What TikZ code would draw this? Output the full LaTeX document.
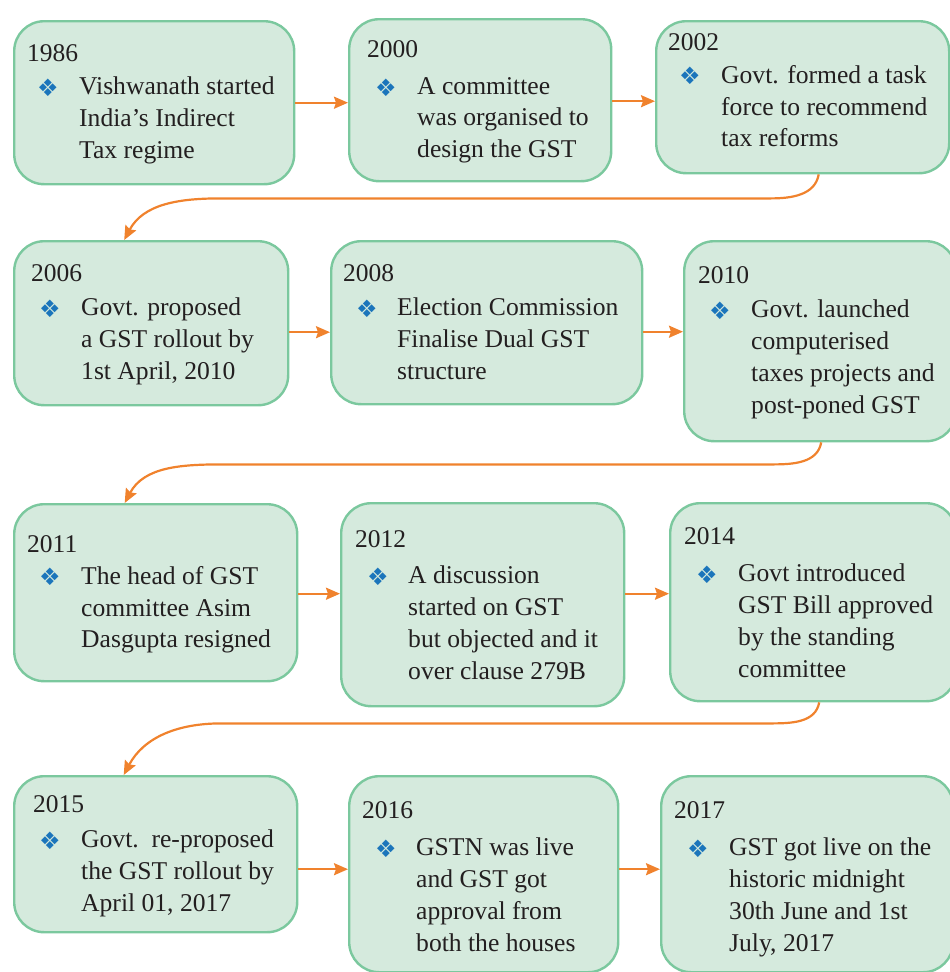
\documentclass[tikz,border=0pt]{standalone}
\usepackage{fontspec}
\setmainfont{Liberation Serif}
\newfontfamily\symbolfont{DejaVu Sans}
\usetikzlibrary{arrows.meta}

\definecolor{boxfill}{HTML}{D5EADD}
\definecolor{boxline}{HTML}{7BC89E}
\definecolor{arrowcol}{HTML}{F0822D}
\definecolor{bulletcol}{HTML}{1B75BB}
\definecolor{inkcol}{HTML}{231F20}

\begin{document}
\begin{tikzpicture}[x=1pt, y=-1pt, >={Stealth[length=14pt,width=12pt,inset=2pt]},
    box/.style={draw=boxline, fill=boxfill, line width=2.4pt, rounded corners=30pt,
        anchor=north west, inner sep=0pt},
    year/.style={anchor=base west, inner sep=0pt, text=inkcol,
        font=\fontsize{25.5}{31.6}\selectfont},
    body/.style={anchor=north west, inner sep=0pt, align=left, text=inkcol,
        font=\fontsize{25.6}{31.8}\selectfont},
    bullet/.style={anchor=base west, inner sep=0pt, text=bulletcol,
        font=\symbolfont\fontsize{24}{26}\selectfont},
    link/.style={->, draw=arrowcol, line width=2.2pt}]
    \useasboundingbox (0,0) rectangle (950,972);

    % First row: 1986, 2000, 2002
    \node[box, minimum width=280, minimum height=163] (b1986) at (13,20) {};
    \node[box, minimum width=262, minimum height=162] (b2000) at (348,18) {};
    \node[box, minimum width=293, minimum height=152] (b2002) at (655,20) {};

    \node[year] (y1986) at (27,61) {1986};
    \node[bullet] (d1986) at (37,96) {❖};
    \node[body] (t1986) at (79,77) {Vishwanath started\\India’s Indirect\\Tax regime};

    \node[year] (y2000) at (367,57) {2000};
    \node[bullet] (d2000) at (375,96) {❖};
    \node[body] (t2000) at (417,77) {A committee\\was organised to\\design the GST};

    \node[year] (y2002) at (668,50) {2002};
    \node[bullet] (d2002) at (679,84) {❖};
    \node[body] (t2002) at (721,65) {Govt. formed a task\\force to recommend\\tax reforms};

    \draw[link] (b1986.east) -- (b1986.east -| b2000.west);
    \draw[link] ([yshift=-1]b2000.east) -- ([yshift=-1]b2000.east -| b2002.west);

    % Second row: 2006, 2008, 2010
    \node[box, minimum width=274, minimum height=164] (b2006) at (13,240) {};
    \node[box, minimum width=311, minimum height=163] (b2008) at (330,240) {};
    \node[box, minimum width=272, minimum height=200] (b2010) at (683,240) {};

    \node[year] (y2006) at (31,281) {2006};
    \node[bullet] (d2006) at (39,317) {❖};
    \node[body] (t2006) at (81,298) {Govt. proposed\\a GST rollout by\\1st April, 2010};

    \node[year] (y2008) at (343,281) {2008};
    \node[bullet] (d2008) at (356,317) {❖};
    \node[body] (t2008) at (397,298) {Election Commission\\Finalise Dual GST\\structure};

    \node[year] (y2010) at (698,283) {2010};
    \node[bullet] (d2010) at (709,319) {❖};
    \node[body] (t2010) at (751,300) {Govt. launched\\computerised\\taxes projects and\\post-poned GST};

    \draw[link] ([yshift=-9]b2006.east) -- ([yshift=-9]b2006.east -| b2008.west);
    \draw[link] ([yshift=-9]b2008.east) -- ([yshift=-9]b2008.east -| b2010.west);

    % Third row: 2011, 2012, 2014
    \node[box, minimum width=283, minimum height=177] (b2011) at (13,503) {};
    \node[box, minimum width=283, minimum height=203] (b2012) at (340,502) {};
    \node[box, minimum width=286, minimum height=198] (b2014) at (669,502) {};

    \node[year] (y2011) at (27,552) {2011};
    \node[bullet] (d2011) at (39,585) {❖};
    \node[body] (t2011) at (81,566) {The head of GST\\committee Asim\\Dasgupta resigned};

    \node[year] (y2012) at (355,547) {2012};
    \node[bullet] (d2012) at (367,585) {❖};
    \node[body] (t2012) at (408,566) {A discussion\\started on GST\\but objected and it\\over clause 279B};

    \node[year] (y2014) at (684,544) {2014};
    \node[bullet] (d2014) at (696,583) {❖};
    \node[body] (t2014) at (738,564) {Govt introduced\\GST Bill approved\\by the standing\\committee};

    \draw[link] ([yshift=-1]b2011.east) -- ([yshift=-1]b2011.east -| b2012.west);
    \draw[link] ([yshift=-1]b2011.east -| b2012.east) -- ([yshift=-1]b2011.east -| b2014.west);

    % Fourth row: 2015, 2016, 2017
    \node[box, minimum width=283, minimum height=156] (b2015) at (13,775) {};
    \node[box, minimum width=269, minimum height=196] (b2016) at (348,775) {};
    \node[box, minimum width=292, minimum height=196] (b2017) at (660,775) {};

    \node[year] (y2015) at (33,812) {2015};
    \node[bullet] (d2015) at (39,849) {❖};
    \node[body] (t2015) at (81,830) {Govt.\ \ re-proposed\\the GST rollout by\\April 01, 2017};

    \node[year] (y2016) at (362,818) {2016};
    \node[bullet] (d2016) at (375,857) {❖};
    \node[body] (t2016) at (416,838) {GSTN was live\\and GST got\\approval from\\both the houses};

    \node[year] (y2017) at (674,818) {2017};
    \node[bullet] (d2017) at (687,857) {❖};
    \node[body] (t2017) at (729,838) {GST got live on the\\historic midnight\\30th June and 1st\\July, 2017};

    \draw[link] ([yshift=-15]b2015.east) -- ([yshift=-15]b2015.east -| b2016.west);
    \draw[link] ([yshift=-15]b2015.east -| b2016.east) -- ([yshift=-15]b2015.east -| b2017.west);

    % Bends from the end of one row down to the start of the next
    \draw[link] ([xshift=16]b2002.south) to[out=-100,in=0] ++(-48,24)
        -- ++(-550,0) to[out=180,in=62] ([xshift=-27]b2006.north);
    \draw[link] ([xshift=1]b2010.south) to[out=-100,in=0] ++(-48,22)
        -- ++(-550,0) to[out=180,in=62] ([xshift=-31]b2011.north);
    \draw[link] ([xshift=6]b2014.south) to[out=-100,in=0] ++(-48,21)
        -- ++(-550,0) to[out=180,in=62] ([xshift=-32]b2015.north);
\end{tikzpicture}
\end{document}
